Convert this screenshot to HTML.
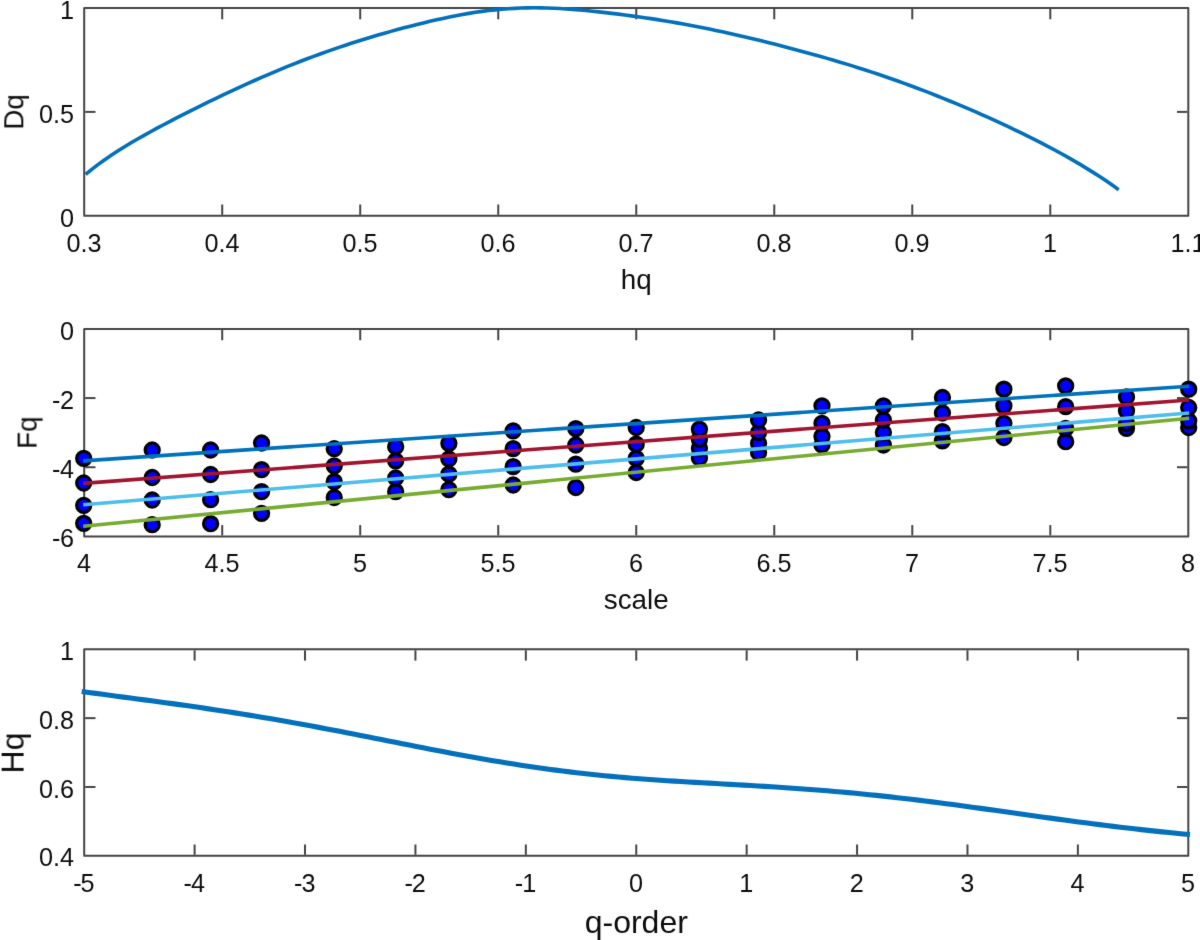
<!DOCTYPE html>
<html lang="en"><head><meta charset="utf-8"><title>MFDFA figure</title>
<style>
html,body{margin:0;padding:0;background:#fff;}
body{width:1200px;height:940px;overflow:hidden;}
svg{display:block;}
svg text{font-family:"Liberation Sans",Arial,Helvetica,sans-serif;fill:#0d0d0d;}
</style></head><body>
<svg width="1200" height="940" viewBox="0 0 1200 940">
<defs><filter id="soft" color-interpolation-filters="sRGB" x="0" y="0" width="1200" height="940" filterUnits="userSpaceOnUse"><feConvolveMatrix order="3" kernelMatrix="0.0064 0.0672 0.0064 0.0672 0.7056 0.0672 0.0064 0.0672 0.0064" edgeMode="duplicate" preserveAlpha="false"/></filter></defs>
<rect width="1200" height="940" fill="#fff"/>
<g filter="url(#soft)">
<rect x="84.2" y="8.0" width="1104.10" height="207.80" fill="none" stroke="#262626" stroke-width="2.0" stroke-opacity="0.86" stroke-linejoin="round"/>
<text x="83.90" y="251.90" font-size="25.2" text-anchor="middle" >0.3</text>
<line x1="222.21" y1="214.80" x2="222.21" y2="204.50" stroke="#262626" stroke-width="2.0" stroke-opacity="0.86"/>
<line x1="222.21" y1="9.00" x2="222.21" y2="19.30" stroke="#262626" stroke-width="2.0" stroke-opacity="0.86"/>
<text x="221.91" y="251.90" font-size="25.2" text-anchor="middle" >0.4</text>
<line x1="360.22" y1="214.80" x2="360.22" y2="204.50" stroke="#262626" stroke-width="2.0" stroke-opacity="0.86"/>
<line x1="360.22" y1="9.00" x2="360.22" y2="19.30" stroke="#262626" stroke-width="2.0" stroke-opacity="0.86"/>
<text x="359.92" y="251.90" font-size="25.2" text-anchor="middle" >0.5</text>
<line x1="498.24" y1="214.80" x2="498.24" y2="204.50" stroke="#262626" stroke-width="2.0" stroke-opacity="0.86"/>
<line x1="498.24" y1="9.00" x2="498.24" y2="19.30" stroke="#262626" stroke-width="2.0" stroke-opacity="0.86"/>
<text x="497.94" y="251.90" font-size="25.2" text-anchor="middle" >0.6</text>
<line x1="636.25" y1="214.80" x2="636.25" y2="204.50" stroke="#262626" stroke-width="2.0" stroke-opacity="0.86"/>
<line x1="636.25" y1="9.00" x2="636.25" y2="19.30" stroke="#262626" stroke-width="2.0" stroke-opacity="0.86"/>
<text x="635.95" y="251.90" font-size="25.2" text-anchor="middle" >0.7</text>
<line x1="774.26" y1="214.80" x2="774.26" y2="204.50" stroke="#262626" stroke-width="2.0" stroke-opacity="0.86"/>
<line x1="774.26" y1="9.00" x2="774.26" y2="19.30" stroke="#262626" stroke-width="2.0" stroke-opacity="0.86"/>
<text x="773.96" y="251.90" font-size="25.2" text-anchor="middle" >0.8</text>
<line x1="912.27" y1="214.80" x2="912.27" y2="204.50" stroke="#262626" stroke-width="2.0" stroke-opacity="0.86"/>
<line x1="912.27" y1="9.00" x2="912.27" y2="19.30" stroke="#262626" stroke-width="2.0" stroke-opacity="0.86"/>
<text x="911.98" y="251.90" font-size="25.2" text-anchor="middle" >0.9</text>
<line x1="1050.29" y1="214.80" x2="1050.29" y2="204.50" stroke="#262626" stroke-width="2.0" stroke-opacity="0.86"/>
<line x1="1050.29" y1="9.00" x2="1050.29" y2="19.30" stroke="#262626" stroke-width="2.0" stroke-opacity="0.86"/>
<text x="1049.99" y="251.90" font-size="25.2" text-anchor="middle" >1</text>
<text x="1188.00" y="251.90" font-size="25.2" text-anchor="middle" >1.1</text>
<text x="74.00" y="19.20" font-size="25.2" text-anchor="end" >1</text>
<line x1="85.20" y1="111.90" x2="95.50" y2="111.90" stroke="#262626" stroke-width="2.0" stroke-opacity="0.86"/>
<line x1="1187.30" y1="111.90" x2="1177.00" y2="111.90" stroke="#262626" stroke-width="2.0" stroke-opacity="0.86"/>
<text x="74.00" y="123.10" font-size="25.2" text-anchor="end" >0.5</text>
<text x="74.00" y="227.00" font-size="25.2" text-anchor="end" >0</text>
<text x="636.25" y="288.50" font-size="27.8" text-anchor="middle" >hq</text>
<text transform="translate(23.3,111.90) rotate(-90)" font-size="27.8" text-anchor="middle">Dq</text>
<path d="M85.60,174.35 L92.10,169.09 L98.59,164.14 L105.09,159.46 L111.59,155.02 L118.09,150.79 L124.58,146.72 L131.08,142.80 L137.58,139.01 L144.08,135.32 L150.57,131.72 L157.07,128.20 L163.57,124.74 L170.07,121.33 L176.56,117.96 L183.06,114.64 L189.56,111.36 L196.06,108.11 L202.55,104.90 L209.05,101.72 L215.55,98.57 L222.05,95.46 L228.54,92.39 L235.04,89.35 L241.54,86.36 L248.04,83.41 L254.53,80.51 L261.03,77.65 L267.53,74.84 L274.03,72.07 L280.52,69.36 L287.02,66.70 L293.52,64.09 L300.02,61.54 L306.51,59.04 L313.01,56.59 L319.51,54.20 L326.01,51.86 L332.50,49.58 L339.00,47.35 L345.50,45.18 L352.00,43.06 L358.49,40.99 L364.99,38.97 L371.49,37.00 L377.99,35.08 L384.48,33.20 L390.98,31.37 L397.48,29.58 L403.98,27.84 L410.47,26.15 L416.97,24.49 L423.47,22.89 L429.97,21.34 L436.46,19.84 L442.96,18.40 L449.46,17.02 L455.96,15.72 L462.45,14.50 L468.95,13.37 L475.45,12.33 L481.95,11.39 L488.44,10.56 L494.94,9.84 L501.44,9.22 L507.94,8.72 L514.43,8.33 L520.93,8.05 L527.43,7.88 L533.93,7.82 L540.42,7.86 L546.92,7.99 L553.42,8.22 L559.92,8.54 L566.41,8.93 L572.91,9.40 L579.41,9.94 L585.91,10.53 L592.40,11.17 L598.90,11.86 L605.40,12.59 L611.90,13.36 L618.39,14.16 L624.89,14.99 L631.39,15.86 L637.89,16.75 L644.38,17.68 L650.88,18.64 L657.38,19.64 L663.88,20.67 L670.37,21.75 L676.87,22.86 L683.37,24.02 L689.87,25.21 L696.36,26.45 L702.86,27.73 L709.36,29.06 L715.86,30.42 L722.35,31.81 L728.85,33.24 L735.35,34.71 L741.85,36.21 L748.34,37.73 L754.84,39.29 L761.34,40.87 L767.84,42.47 L774.33,44.10 L780.83,45.76 L787.33,47.45 L793.83,49.15 L800.32,50.89 L806.82,52.65 L813.32,54.45 L819.82,56.27 L826.31,58.13 L832.81,60.02 L839.31,61.94 L845.81,63.90 L852.30,65.90 L858.80,67.93 L865.30,70.01 L871.80,72.13 L878.29,74.29 L884.79,76.50 L891.29,78.75 L897.79,81.04 L904.28,83.38 L910.78,85.76 L917.28,88.19 L923.78,90.66 L930.27,93.17 L936.77,95.73 L943.27,98.32 L949.77,100.97 L956.26,103.65 L962.76,106.38 L969.26,109.14 L975.76,111.96 L982.25,114.81 L988.75,117.71 L995.25,120.65 L1001.75,123.64 L1008.24,126.67 L1014.74,129.76 L1021.24,132.90 L1027.74,136.09 L1034.23,139.34 L1040.73,142.66 L1047.23,146.04 L1053.73,149.50 L1060.22,153.03 L1066.72,156.65 L1073.22,160.36 L1079.72,164.17 L1086.21,168.10 L1092.71,172.14 L1099.21,176.31 L1105.71,180.61 L1112.20,185.08 L1118.70,189.71" fill="none" stroke="#0370BC" stroke-width="3.6" stroke-linejoin="round" />
<rect x="84.2" y="328.9" width="1104.10" height="207.50" fill="none" stroke="#262626" stroke-width="2.0" stroke-opacity="0.86" stroke-linejoin="round"/>
<text x="83.90" y="572.20" font-size="25.2" text-anchor="middle" >4</text>
<line x1="222.21" y1="535.40" x2="222.21" y2="525.10" stroke="#262626" stroke-width="2.0" stroke-opacity="0.86"/>
<line x1="222.21" y1="329.90" x2="222.21" y2="340.20" stroke="#262626" stroke-width="2.0" stroke-opacity="0.86"/>
<text x="221.91" y="572.20" font-size="25.2" text-anchor="middle" >4.5</text>
<line x1="360.22" y1="535.40" x2="360.22" y2="525.10" stroke="#262626" stroke-width="2.0" stroke-opacity="0.86"/>
<line x1="360.22" y1="329.90" x2="360.22" y2="340.20" stroke="#262626" stroke-width="2.0" stroke-opacity="0.86"/>
<text x="359.92" y="572.20" font-size="25.2" text-anchor="middle" >5</text>
<line x1="498.24" y1="535.40" x2="498.24" y2="525.10" stroke="#262626" stroke-width="2.0" stroke-opacity="0.86"/>
<line x1="498.24" y1="329.90" x2="498.24" y2="340.20" stroke="#262626" stroke-width="2.0" stroke-opacity="0.86"/>
<text x="497.94" y="572.20" font-size="25.2" text-anchor="middle" >5.5</text>
<line x1="636.25" y1="535.40" x2="636.25" y2="525.10" stroke="#262626" stroke-width="2.0" stroke-opacity="0.86"/>
<line x1="636.25" y1="329.90" x2="636.25" y2="340.20" stroke="#262626" stroke-width="2.0" stroke-opacity="0.86"/>
<text x="635.95" y="572.20" font-size="25.2" text-anchor="middle" >6</text>
<line x1="774.26" y1="535.40" x2="774.26" y2="525.10" stroke="#262626" stroke-width="2.0" stroke-opacity="0.86"/>
<line x1="774.26" y1="329.90" x2="774.26" y2="340.20" stroke="#262626" stroke-width="2.0" stroke-opacity="0.86"/>
<text x="773.96" y="572.20" font-size="25.2" text-anchor="middle" >6.5</text>
<line x1="912.27" y1="535.40" x2="912.27" y2="525.10" stroke="#262626" stroke-width="2.0" stroke-opacity="0.86"/>
<line x1="912.27" y1="329.90" x2="912.27" y2="340.20" stroke="#262626" stroke-width="2.0" stroke-opacity="0.86"/>
<text x="911.98" y="572.20" font-size="25.2" text-anchor="middle" >7</text>
<line x1="1050.29" y1="535.40" x2="1050.29" y2="525.10" stroke="#262626" stroke-width="2.0" stroke-opacity="0.86"/>
<line x1="1050.29" y1="329.90" x2="1050.29" y2="340.20" stroke="#262626" stroke-width="2.0" stroke-opacity="0.86"/>
<text x="1049.99" y="572.20" font-size="25.2" text-anchor="middle" >7.5</text>
<text x="1188.00" y="572.20" font-size="25.2" text-anchor="middle" >8</text>
<text x="74.00" y="339.90" font-size="25.2" text-anchor="end" >0</text>
<line x1="85.20" y1="398.07" x2="95.50" y2="398.07" stroke="#262626" stroke-width="2.0" stroke-opacity="0.86"/>
<line x1="1187.30" y1="398.07" x2="1177.00" y2="398.07" stroke="#262626" stroke-width="2.0" stroke-opacity="0.86"/>
<text x="74.00" y="409.07" font-size="25.2" text-anchor="end" >-<tspan dx="-0.4">2</tspan></text>
<line x1="85.20" y1="467.23" x2="95.50" y2="467.23" stroke="#262626" stroke-width="2.0" stroke-opacity="0.86"/>
<line x1="1187.30" y1="467.23" x2="1177.00" y2="467.23" stroke="#262626" stroke-width="2.0" stroke-opacity="0.86"/>
<text x="74.00" y="478.23" font-size="25.2" text-anchor="end" >-<tspan dx="-0.4">4</tspan></text>
<text x="74.00" y="547.40" font-size="25.2" text-anchor="end" >-<tspan dx="-0.4">6</tspan></text>
<text x="636.25" y="609.10" font-size="27.8" text-anchor="middle" >scale</text>
<text transform="translate(36.6,432.65) rotate(-90)" font-size="27.8" text-anchor="middle">Fq</text>
<circle cx="83.70" cy="523.30" r="7.1" fill="#0000ff" stroke="#000" stroke-width="3.1"/>
<circle cx="152.19" cy="524.70" r="7.1" fill="#0000ff" stroke="#000" stroke-width="3.1"/>
<circle cx="210.62" cy="523.70" r="7.1" fill="#0000ff" stroke="#000" stroke-width="3.1"/>
<circle cx="261.57" cy="513.30" r="7.1" fill="#0000ff" stroke="#000" stroke-width="3.1"/>
<circle cx="334.23" cy="497.50" r="7.1" fill="#0000ff" stroke="#000" stroke-width="3.1"/>
<circle cx="395.66" cy="491.70" r="7.1" fill="#0000ff" stroke="#000" stroke-width="3.1"/>
<circle cx="448.88" cy="489.60" r="7.1" fill="#0000ff" stroke="#000" stroke-width="3.1"/>
<circle cx="513.16" cy="485.00" r="7.1" fill="#0000ff" stroke="#000" stroke-width="3.1"/>
<circle cx="575.80" cy="487.50" r="7.1" fill="#0000ff" stroke="#000" stroke-width="3.1"/>
<circle cx="636.20" cy="472.50" r="7.1" fill="#0000ff" stroke="#000" stroke-width="3.1"/>
<circle cx="699.41" cy="458.00" r="7.1" fill="#0000ff" stroke="#000" stroke-width="3.1"/>
<circle cx="758.56" cy="452.50" r="7.1" fill="#0000ff" stroke="#000" stroke-width="3.1"/>
<circle cx="821.96" cy="445.00" r="7.1" fill="#0000ff" stroke="#000" stroke-width="3.1"/>
<circle cx="883.39" cy="445.00" r="7.1" fill="#0000ff" stroke="#000" stroke-width="3.1"/>
<circle cx="942.43" cy="440.80" r="7.1" fill="#0000ff" stroke="#000" stroke-width="3.1"/>
<circle cx="1003.87" cy="437.50" r="7.1" fill="#0000ff" stroke="#000" stroke-width="3.1"/>
<circle cx="1065.66" cy="441.70" r="7.1" fill="#0000ff" stroke="#000" stroke-width="3.1"/>
<circle cx="1126.48" cy="428.30" r="7.1" fill="#0000ff" stroke="#000" stroke-width="3.1"/>
<circle cx="1188.70" cy="427.50" r="7.1" fill="#0000ff" stroke="#000" stroke-width="3.1"/>
<circle cx="83.70" cy="505.30" r="7.1" fill="#0000ff" stroke="#000" stroke-width="3.1"/>
<circle cx="152.19" cy="500.00" r="7.1" fill="#0000ff" stroke="#000" stroke-width="3.1"/>
<circle cx="210.62" cy="499.70" r="7.1" fill="#0000ff" stroke="#000" stroke-width="3.1"/>
<circle cx="261.57" cy="491.70" r="7.1" fill="#0000ff" stroke="#000" stroke-width="3.1"/>
<circle cx="334.23" cy="481.70" r="7.1" fill="#0000ff" stroke="#000" stroke-width="3.1"/>
<circle cx="395.66" cy="478.00" r="7.1" fill="#0000ff" stroke="#000" stroke-width="3.1"/>
<circle cx="448.88" cy="474.20" r="7.1" fill="#0000ff" stroke="#000" stroke-width="3.1"/>
<circle cx="513.16" cy="466.70" r="7.1" fill="#0000ff" stroke="#000" stroke-width="3.1"/>
<circle cx="575.80" cy="464.20" r="7.1" fill="#0000ff" stroke="#000" stroke-width="3.1"/>
<circle cx="636.20" cy="458.30" r="7.1" fill="#0000ff" stroke="#000" stroke-width="3.1"/>
<circle cx="699.41" cy="448.30" r="7.1" fill="#0000ff" stroke="#000" stroke-width="3.1"/>
<circle cx="758.56" cy="443.30" r="7.1" fill="#0000ff" stroke="#000" stroke-width="3.1"/>
<circle cx="821.96" cy="436.30" r="7.1" fill="#0000ff" stroke="#000" stroke-width="3.1"/>
<circle cx="883.39" cy="432.50" r="7.1" fill="#0000ff" stroke="#000" stroke-width="3.1"/>
<circle cx="942.43" cy="431.70" r="7.1" fill="#0000ff" stroke="#000" stroke-width="3.1"/>
<circle cx="1003.87" cy="423.30" r="7.1" fill="#0000ff" stroke="#000" stroke-width="3.1"/>
<circle cx="1065.66" cy="428.30" r="7.1" fill="#0000ff" stroke="#000" stroke-width="3.1"/>
<circle cx="1126.48" cy="423.30" r="7.1" fill="#0000ff" stroke="#000" stroke-width="3.1"/>
<circle cx="1188.70" cy="420.80" r="7.1" fill="#0000ff" stroke="#000" stroke-width="3.1"/>
<circle cx="83.70" cy="483.00" r="7.1" fill="#0000ff" stroke="#000" stroke-width="3.1"/>
<circle cx="152.19" cy="477.50" r="7.1" fill="#0000ff" stroke="#000" stroke-width="3.1"/>
<circle cx="210.62" cy="474.50" r="7.1" fill="#0000ff" stroke="#000" stroke-width="3.1"/>
<circle cx="261.57" cy="469.70" r="7.1" fill="#0000ff" stroke="#000" stroke-width="3.1"/>
<circle cx="334.23" cy="465.80" r="7.1" fill="#0000ff" stroke="#000" stroke-width="3.1"/>
<circle cx="395.66" cy="460.80" r="7.1" fill="#0000ff" stroke="#000" stroke-width="3.1"/>
<circle cx="448.88" cy="459.00" r="7.1" fill="#0000ff" stroke="#000" stroke-width="3.1"/>
<circle cx="513.16" cy="448.70" r="7.1" fill="#0000ff" stroke="#000" stroke-width="3.1"/>
<circle cx="575.80" cy="445.00" r="7.1" fill="#0000ff" stroke="#000" stroke-width="3.1"/>
<circle cx="636.20" cy="444.20" r="7.1" fill="#0000ff" stroke="#000" stroke-width="3.1"/>
<circle cx="699.41" cy="439.20" r="7.1" fill="#0000ff" stroke="#000" stroke-width="3.1"/>
<circle cx="758.56" cy="432.50" r="7.1" fill="#0000ff" stroke="#000" stroke-width="3.1"/>
<circle cx="821.96" cy="423.30" r="7.1" fill="#0000ff" stroke="#000" stroke-width="3.1"/>
<circle cx="883.39" cy="420.00" r="7.1" fill="#0000ff" stroke="#000" stroke-width="3.1"/>
<circle cx="942.43" cy="413.00" r="7.1" fill="#0000ff" stroke="#000" stroke-width="3.1"/>
<circle cx="1003.87" cy="405.80" r="7.1" fill="#0000ff" stroke="#000" stroke-width="3.1"/>
<circle cx="1065.66" cy="406.70" r="7.1" fill="#0000ff" stroke="#000" stroke-width="3.1"/>
<circle cx="1126.48" cy="410.80" r="7.1" fill="#0000ff" stroke="#000" stroke-width="3.1"/>
<circle cx="1188.70" cy="407.50" r="7.1" fill="#0000ff" stroke="#000" stroke-width="3.1"/>
<circle cx="83.70" cy="458.30" r="7.1" fill="#0000ff" stroke="#000" stroke-width="3.1"/>
<circle cx="152.19" cy="450.00" r="7.1" fill="#0000ff" stroke="#000" stroke-width="3.1"/>
<circle cx="210.62" cy="450.00" r="7.1" fill="#0000ff" stroke="#000" stroke-width="3.1"/>
<circle cx="261.57" cy="443.00" r="7.1" fill="#0000ff" stroke="#000" stroke-width="3.1"/>
<circle cx="334.23" cy="448.70" r="7.1" fill="#0000ff" stroke="#000" stroke-width="3.1"/>
<circle cx="395.66" cy="446.70" r="7.1" fill="#0000ff" stroke="#000" stroke-width="3.1"/>
<circle cx="448.88" cy="443.30" r="7.1" fill="#0000ff" stroke="#000" stroke-width="3.1"/>
<circle cx="513.16" cy="430.80" r="7.1" fill="#0000ff" stroke="#000" stroke-width="3.1"/>
<circle cx="575.80" cy="428.70" r="7.1" fill="#0000ff" stroke="#000" stroke-width="3.1"/>
<circle cx="636.20" cy="427.50" r="7.1" fill="#0000ff" stroke="#000" stroke-width="3.1"/>
<circle cx="699.41" cy="429.20" r="7.1" fill="#0000ff" stroke="#000" stroke-width="3.1"/>
<circle cx="758.56" cy="420.00" r="7.1" fill="#0000ff" stroke="#000" stroke-width="3.1"/>
<circle cx="821.96" cy="405.80" r="7.1" fill="#0000ff" stroke="#000" stroke-width="3.1"/>
<circle cx="883.39" cy="405.80" r="7.1" fill="#0000ff" stroke="#000" stroke-width="3.1"/>
<circle cx="942.43" cy="397.50" r="7.1" fill="#0000ff" stroke="#000" stroke-width="3.1"/>
<circle cx="1003.87" cy="389.20" r="7.1" fill="#0000ff" stroke="#000" stroke-width="3.1"/>
<circle cx="1065.66" cy="385.80" r="7.1" fill="#0000ff" stroke="#000" stroke-width="3.1"/>
<circle cx="1126.48" cy="397.00" r="7.1" fill="#0000ff" stroke="#000" stroke-width="3.1"/>
<circle cx="1188.70" cy="389.20" r="7.1" fill="#0000ff" stroke="#000" stroke-width="3.1"/>
<line x1="83.20" y1="460.87" x2="1189.20" y2="386.24" stroke="#0072BD" stroke-width="3.6" />
<line x1="83.20" y1="483.37" x2="1189.20" y2="399.94" stroke="#A2142F" stroke-width="3.6" />
<line x1="83.20" y1="504.77" x2="1189.20" y2="412.94" stroke="#4DBEEE" stroke-width="3.6" />
<line x1="83.20" y1="526.27" x2="1189.20" y2="418.24" stroke="#77AC30" stroke-width="3.6" />
<rect x="84.2" y="649.3" width="1104.10" height="206.50" fill="none" stroke="#262626" stroke-width="2.0" stroke-opacity="0.86" stroke-linejoin="round"/>
<text x="83.90" y="892.10" font-size="25.2" text-anchor="middle" >-<tspan dx="-1.0">5</tspan></text>
<line x1="194.61" y1="854.80" x2="194.61" y2="844.50" stroke="#262626" stroke-width="2.0" stroke-opacity="0.86"/>
<line x1="194.61" y1="650.30" x2="194.61" y2="660.60" stroke="#262626" stroke-width="2.0" stroke-opacity="0.86"/>
<text x="194.31" y="892.10" font-size="25.2" text-anchor="middle" >-<tspan dx="-1.0">4</tspan></text>
<line x1="305.02" y1="854.80" x2="305.02" y2="844.50" stroke="#262626" stroke-width="2.0" stroke-opacity="0.86"/>
<line x1="305.02" y1="650.30" x2="305.02" y2="660.60" stroke="#262626" stroke-width="2.0" stroke-opacity="0.86"/>
<text x="304.72" y="892.10" font-size="25.2" text-anchor="middle" >-<tspan dx="-1.0">3</tspan></text>
<line x1="415.43" y1="854.80" x2="415.43" y2="844.50" stroke="#262626" stroke-width="2.0" stroke-opacity="0.86"/>
<line x1="415.43" y1="650.30" x2="415.43" y2="660.60" stroke="#262626" stroke-width="2.0" stroke-opacity="0.86"/>
<text x="415.13" y="892.10" font-size="25.2" text-anchor="middle" >-<tspan dx="-1.0">2</tspan></text>
<line x1="525.84" y1="854.80" x2="525.84" y2="844.50" stroke="#262626" stroke-width="2.0" stroke-opacity="0.86"/>
<line x1="525.84" y1="650.30" x2="525.84" y2="660.60" stroke="#262626" stroke-width="2.0" stroke-opacity="0.86"/>
<text x="525.54" y="892.10" font-size="25.2" text-anchor="middle" >-<tspan dx="-1.0">1</tspan></text>
<line x1="636.25" y1="854.80" x2="636.25" y2="844.50" stroke="#262626" stroke-width="2.0" stroke-opacity="0.86"/>
<line x1="636.25" y1="650.30" x2="636.25" y2="660.60" stroke="#262626" stroke-width="2.0" stroke-opacity="0.86"/>
<text x="635.95" y="892.10" font-size="25.2" text-anchor="middle" >0</text>
<line x1="746.66" y1="854.80" x2="746.66" y2="844.50" stroke="#262626" stroke-width="2.0" stroke-opacity="0.86"/>
<line x1="746.66" y1="650.30" x2="746.66" y2="660.60" stroke="#262626" stroke-width="2.0" stroke-opacity="0.86"/>
<text x="746.36" y="892.10" font-size="25.2" text-anchor="middle" >1</text>
<line x1="857.07" y1="854.80" x2="857.07" y2="844.50" stroke="#262626" stroke-width="2.0" stroke-opacity="0.86"/>
<line x1="857.07" y1="650.30" x2="857.07" y2="660.60" stroke="#262626" stroke-width="2.0" stroke-opacity="0.86"/>
<text x="856.77" y="892.10" font-size="25.2" text-anchor="middle" >2</text>
<line x1="967.48" y1="854.80" x2="967.48" y2="844.50" stroke="#262626" stroke-width="2.0" stroke-opacity="0.86"/>
<line x1="967.48" y1="650.30" x2="967.48" y2="660.60" stroke="#262626" stroke-width="2.0" stroke-opacity="0.86"/>
<text x="967.18" y="892.10" font-size="25.2" text-anchor="middle" >3</text>
<line x1="1077.89" y1="854.80" x2="1077.89" y2="844.50" stroke="#262626" stroke-width="2.0" stroke-opacity="0.86"/>
<line x1="1077.89" y1="650.30" x2="1077.89" y2="660.60" stroke="#262626" stroke-width="2.0" stroke-opacity="0.86"/>
<text x="1077.59" y="892.10" font-size="25.2" text-anchor="middle" >4</text>
<text x="1188.00" y="892.10" font-size="25.2" text-anchor="middle" >5</text>
<text x="74.00" y="659.90" font-size="25.2" text-anchor="end" >1</text>
<line x1="85.20" y1="718.13" x2="95.50" y2="718.13" stroke="#262626" stroke-width="2.0" stroke-opacity="0.86"/>
<line x1="1187.30" y1="718.13" x2="1177.00" y2="718.13" stroke="#262626" stroke-width="2.0" stroke-opacity="0.86"/>
<text x="74.00" y="728.73" font-size="25.2" text-anchor="end" >0.8</text>
<line x1="85.20" y1="786.97" x2="95.50" y2="786.97" stroke="#262626" stroke-width="2.0" stroke-opacity="0.86"/>
<line x1="1187.30" y1="786.97" x2="1177.00" y2="786.97" stroke="#262626" stroke-width="2.0" stroke-opacity="0.86"/>
<text x="74.00" y="797.57" font-size="25.2" text-anchor="end" >0.6</text>
<text x="74.00" y="866.40" font-size="25.2" text-anchor="end" >0.4</text>
<text x="636.25" y="932.50" font-size="32" text-anchor="middle" >q-order</text>
<text transform="translate(23.6,753.05) rotate(-90)" font-size="32" text-anchor="middle">Hq</text>
<path d="M81.70,691.48 L88.67,692.44 L95.64,693.38 L102.61,694.32 L109.58,695.25 L116.55,696.18 L123.52,697.10 L130.49,698.02 L137.46,698.94 L144.43,699.87 L151.40,700.80 L158.37,701.74 L165.35,702.68 L172.32,703.64 L179.29,704.61 L186.26,705.59 L193.23,706.58 L200.20,707.59 L207.17,708.61 L214.14,709.65 L221.11,710.70 L228.08,711.78 L235.05,712.87 L242.02,713.98 L248.99,715.11 L255.96,716.25 L262.93,717.42 L269.90,718.60 L276.87,719.80 L283.84,721.02 L290.81,722.26 L297.78,723.52 L304.75,724.79 L311.72,726.08 L318.69,727.38 L325.67,728.70 L332.64,730.03 L339.61,731.37 L346.58,732.72 L353.55,734.09 L360.52,735.46 L367.49,736.83 L374.46,738.21 L381.43,739.60 L388.40,740.98 L395.37,742.37 L402.34,743.75 L409.31,745.12 L416.28,746.49 L423.25,747.85 L430.22,749.20 L437.19,750.54 L444.16,751.87 L451.13,753.18 L458.10,754.47 L465.07,755.75 L472.04,757.01 L479.02,758.25 L485.99,759.46 L492.96,760.65 L499.93,761.82 L506.90,762.96 L513.87,764.07 L520.84,765.16 L527.81,766.21 L534.78,767.24 L541.75,768.23 L548.72,769.20 L555.69,770.13 L562.66,771.02 L569.63,771.89 L576.60,772.72 L583.57,773.51 L590.54,774.28 L597.51,775.01 L604.48,775.70 L611.45,776.37 L618.42,777.01 L625.39,777.61 L632.36,778.19 L639.34,778.74 L646.31,779.26 L653.28,779.76 L660.25,780.24 L667.22,780.70 L674.19,781.14 L681.16,781.57 L688.13,781.98 L695.10,782.38 L702.07,782.78 L709.04,783.17 L716.01,783.56 L722.98,783.95 L729.95,784.34 L736.92,784.73 L743.89,785.12 L750.86,785.53 L757.83,785.94 L764.80,786.36 L771.77,786.80 L778.74,787.25 L785.71,787.71 L792.68,788.18 L799.66,788.68 L806.63,789.19 L813.60,789.72 L820.57,790.27 L827.54,790.83 L834.51,791.42 L841.48,792.03 L848.45,792.66 L855.42,793.31 L862.39,793.99 L869.36,794.68 L876.33,795.40 L883.30,796.14 L890.27,796.90 L897.24,797.67 L904.21,798.47 L911.18,799.29 L918.15,800.13 L925.12,800.99 L932.09,801.86 L939.06,802.76 L946.03,803.66 L953.01,804.58 L959.98,805.52 L966.95,806.46 L973.92,807.42 L980.89,808.38 L987.86,809.35 L994.83,810.33 L1001.80,811.31 L1008.77,812.29 L1015.74,813.28 L1022.71,814.26 L1029.68,815.24 L1036.65,816.22 L1043.62,817.19 L1050.59,818.15 L1057.56,819.11 L1064.53,820.06 L1071.50,821.00 L1078.47,821.93 L1085.44,822.84 L1092.41,823.75 L1099.38,824.64 L1106.35,825.51 L1113.33,826.37 L1120.30,827.21 L1127.27,828.04 L1134.24,828.84 L1141.21,829.63 L1148.18,830.40 L1155.15,831.15 L1162.12,831.87 L1169.09,832.58 L1176.06,833.27 L1183.03,833.93 L1190.00,834.57" fill="none" stroke="#0370BC" stroke-width="5.1" stroke-linejoin="round" />
</g>
</svg>
</body></html>
